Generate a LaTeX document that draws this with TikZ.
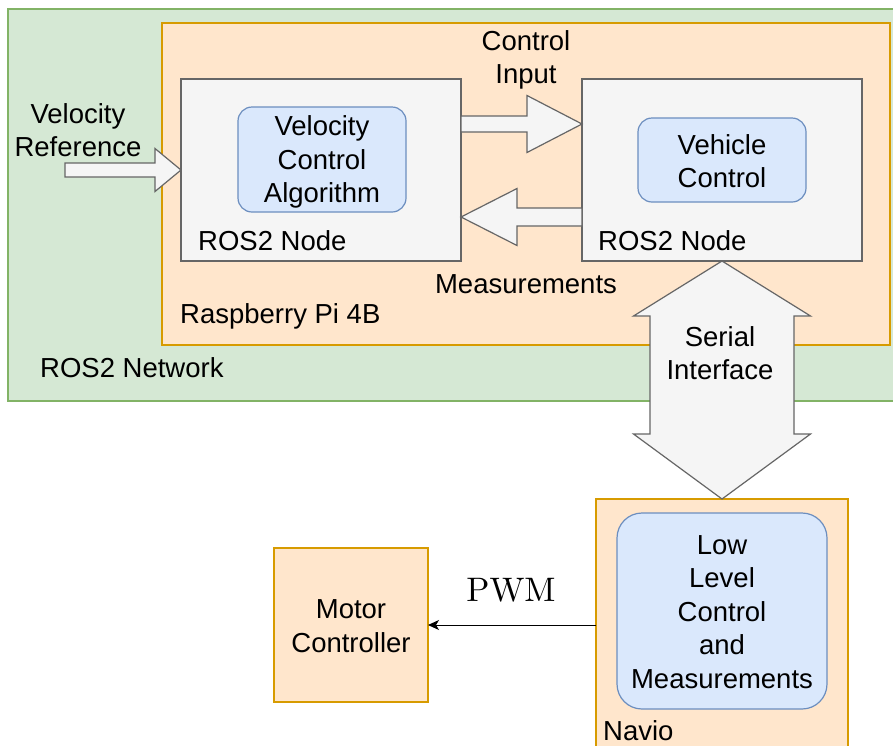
\documentclass[tikz,border=0pt]{standalone}
\usepackage{fontspec}
\setsansfont{Liberation Sans}
\newfontfamily\cmten{lmroman10-regular}[Extension=.otf]
\usetikzlibrary{calc,arrows.meta}
\definecolor{gfill}{HTML}{D5E8D4}
\definecolor{gline}{HTML}{82B366}
\definecolor{ofill}{HTML}{FFE6CC}
\definecolor{oline}{HTML}{D79B00}
\definecolor{kfill}{HTML}{F5F5F5}
\definecolor{kline}{HTML}{666666}
\definecolor{bfill}{HTML}{DAE8FC}
\definecolor{bline}{HTML}{6C8EBF}
\newcommand\lbl{\fontsize{27.5}{33.5}\selectfont\sffamily}
\begin{document}
\begin{tikzpicture}[x=1pt,y=-1pt,
  box/.style={line width=1.2pt, inner sep=0pt, outer sep=0pt, anchor=north west},
  greenbox/.style={box, draw=gline, fill=gfill},
  orangebox/.style={box, draw=oline, fill=ofill},
  graybox/.style={box, draw=kline, fill=kfill},
  bluebox/.style={box, draw=bline, fill=bfill, rounded corners=14pt, font=\lbl, align=center},
  barrow/.style={draw=kline, fill=kfill, line width=1.2pt, line join=miter},
  txt/.style={font=\lbl, align=center, inner sep=0pt},
  ltxt/.style={font=\lbl, inner sep=0pt, anchor=base west}]
\useasboundingbox (0,0) rectangle (893,745);
\fill[white] (0,0) rectangle (893,745);
% containers
\node[greenbox, minimum width=900pt, minimum height=392pt] (net) at (8,9) {};
\node[orangebox, minimum width=728pt, minimum height=322pt] (rpi) at (162,23) {};
\node[ltxt] (netlbl) at (40,377) {ROS2 Network};
\node[ltxt] (rpilbl) at (180,323) {Raspberry Pi 4B};
% ROS2 nodes
\node[graybox, minimum width=280pt, minimum height=182pt] (lnode) at (181,79) {};
\node[graybox, minimum width=280pt, minimum height=182pt] (rnode) at (582,79) {};
\node[ltxt] (lnodelbl) at (198,250) {ROS2 Node};
\node[ltxt] (rnodelbl) at (598,250) {ROS2 Node};
\node[bluebox, minimum width=168pt, minimum height=105pt] (lblue) at (238,107) {};
\node[txt] (lbluetxt) at (322,162) {Velocity\\Control\\Algorithm};
\node[bluebox, minimum width=168pt, minimum height=84pt] (rblue) at (638,118) {};
\node[txt] (rbluetxt) at (722,161) {Vehicle\\Control};
% Navio and motor controller
\node[orangebox, minimum width=252pt, minimum height=260pt] (navio) at (596,499) {};
\node[ltxt] (naviolbl) at (603,740) {Navio};
\node[bluebox, rounded corners=25pt, minimum width=210pt, minimum height=196pt] (nblue) at (617,513) {};
\node[txt] (nbluetxt) at (722,612) {Low\\Level\\Control\\and\\Measurements};
\node[orangebox, minimum width=154pt, minimum height=154pt] (motor) at (274,548) {};
\node[txt] (motortxt) at (351,626) {Motor\\Controller};
% block arrows
\coordinate (ciA) at (lnode.east |- 0,124);
\coordinate (ciB) at (rnode.west |- 0,124);
\draw[barrow] let \p1=(ciA), \p2=(ciB) in
  (\x1,\y1+8pt) -- (\x2-55pt,\y1+8pt) -- (\x2-55pt,\y1+28.5pt) -- (\x2,\y1)
  -- (\x2-55pt,\y1-28.5pt) -- (\x2-55pt,\y1-8pt) -- (\x1,\y1-8pt) -- cycle;
\coordinate (meA) at (rnode.west |- 0,217);
\coordinate (meB) at (lnode.east |- 0,217);
\draw[barrow] let \p1=(meA), \p2=(meB) in
  (\x1,\y1+9pt) -- (\x2+56pt,\y1+9pt) -- (\x2+56pt,\y1+28.5pt) -- (\x2,\y1)
  -- (\x2+56pt,\y1-28.5pt) -- (\x2+56pt,\y1-9pt) -- (\x1,\y1-9pt) -- cycle;
\coordinate (vrA) at (65,170);
\coordinate (vrB) at (lnode.west |- 0,170);
\draw[barrow] let \p1=(vrA), \p2=(vrB) in
  (\x1,\y1+7pt) -- (\x2-26pt,\y1+7pt) -- (\x2-26pt,\y1+21.5pt) -- (\x2,\y1)
  -- (\x2-26pt,\y1-21.5pt) -- (\x2-26pt,\y1-7pt) -- (\x1,\y1-7pt) -- cycle;
\draw[barrow] let \p1=(rnode.south), \p2=(navio.north) in
  (\x1,\y1) -- (\x1+88.5pt,\y1-55pt) -- (\x1+72pt,\y1-55pt) -- (\x1+72pt,\y2+65pt)
  -- (\x1+88.5pt,\y2+65pt) -- (\x2,\y2) -- (\x1-88.5pt,\y2+65pt) -- (\x1-72pt,\y2+65pt)
  -- (\x1-72pt,\y1-55pt) -- (\x1-88.5pt,\y1-55pt) -- cycle;
% arrow labels
\node[txt] (ctrlin) at (526,60) {Control\\Input};
\node[txt] (meas) at (526,284) {Measurements};
\node[txt] (velref) at (78,130) {Velocity\\Reference};
\node[txt] (serial) at (720,353) {Serial\\Interface};
% PWM connector
\draw[line width=1pt, -{Stealth[length=11pt,width=10pt,inset=3pt]}] (navio.west |- motor.east) -- (motor.east);
\node[font=\fontsize{34}{40}\selectfont\cmten, inner sep=0pt] (pwm) at (511,590) {PWM};
\end{tikzpicture}
\end{document}
